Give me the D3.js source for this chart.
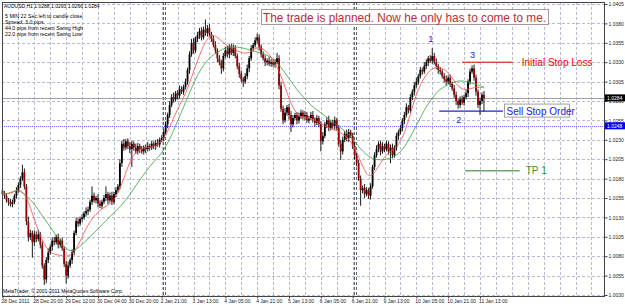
<!DOCTYPE html>
<html><head><meta charset="utf-8">
<script src="https://cdn.jsdelivr.net/npm/d3@7"></script>
<style>body{margin:0;background:#fff}svg{display:block}text{font-family:"Liberation Sans",Arial,sans-serif}</style>
</head><body><svg id="c" width="625" height="305"></svg>
<script>
const closes = [1.0160,1.0158,1.0152,1.0150,1.0147,1.0150,1.0158,1.0165,1.0172,1.0180,
1.0188,1.0170,1.0125,1.0105,1.0110,1.0098,1.0108,1.0102,1.0108,1.0095,
1.0068,1.0050,1.0075,1.0085,1.0092,1.0100,1.0098,1.0105,1.0095,1.0100,
1.0090,1.0070,1.0055,1.0068,1.0075,1.0085,1.0110,1.0125,1.0122,1.0128,
1.0130,1.0135,1.0138,1.0140,1.0150,1.0158,1.0152,1.0155,1.0148,1.0145,
1.0150,1.0155,1.0160,1.0152,1.0158,1.0150,1.0160,1.0165,1.0170,1.0200,
1.0225,1.0220,1.0228,1.0222,1.0218,1.0225,1.0220,1.0215,1.0222,1.0218,
1.0215,1.0220,1.0218,1.0222,1.0220,1.0225,1.0222,1.0226,1.0224,1.0230,
1.0232,1.0240,1.0250,1.0262,1.0275,1.0285,1.0282,1.0290,1.0287,1.0295,
1.0292,1.0298,1.0305,1.0320,1.0340,1.0355,1.0345,1.0360,1.0365,1.0370,
1.0362,1.0372,1.0368,1.0374,1.0366,1.0360,1.0352,1.0345,1.0335,1.0330,
1.0322,1.0338,1.0345,1.0340,1.0350,1.0342,1.0348,1.0338,1.0325,1.0315,
1.0308,1.0305,1.0312,1.0322,1.0335,1.0348,1.0352,1.0358,1.0362,1.0350,
1.0340,1.0335,1.0330,1.0332,1.0328,1.0330,1.0327,1.0330,1.0335,1.0300,
1.0270,1.0255,1.0265,1.0272,1.0262,1.0250,1.0258,1.0262,1.0255,1.0260,
1.0265,1.0260,1.0262,1.0255,1.0258,1.0262,1.0256,1.0252,1.0258,1.0250,
1.0228,1.0235,1.0250,1.0255,1.0245,1.0252,1.0248,1.0255,1.0245,1.0225,
1.0215,1.0230,1.0238,1.0232,1.0240,1.0235,1.0222,1.0210,1.0200,1.0180,
1.0165,1.0168,1.0160,1.0165,1.0158,1.0170,1.0195,1.0210,1.0218,1.0225,
1.0215,1.0222,1.0218,1.0225,1.0215,1.0220,1.0210,1.0220,1.0235,1.0240,
1.0245,1.0255,1.0262,1.0272,1.0268,1.0285,1.0292,1.0300,1.0305,1.0312,
1.0320,1.0318,1.0325,1.0330,1.0335,1.0332,1.0338,1.0330,1.0325,1.0320,
1.0318,1.0312,1.0308,1.0305,1.0310,1.0302,1.0296,1.0288,1.0280,1.0275,
1.0282,1.0278,1.0285,1.0290,1.0305,1.0318,1.0322,1.0310,1.0292,1.0275,
1.0280,1.0288,1.0284];
const opens = [1.0165,1.0160,1.0158,1.0152,1.0150,1.0147,1.0150,1.0158,1.0165,1.0172,
1.0180,1.0188,1.0170,1.0125,1.0105,1.0110,1.0098,1.0108,1.0102,1.0108,
1.0095,1.0068,1.0050,1.0075,1.0085,1.0092,1.0100,1.0098,1.0105,1.0095,
1.0100,1.0090,1.0070,1.0055,1.0068,1.0075,1.0085,1.0110,1.0125,1.0122,
1.0128,1.0130,1.0135,1.0138,1.0140,1.0150,1.0158,1.0152,1.0155,1.0148,
1.0145,1.0150,1.0155,1.0160,1.0152,1.0158,1.0150,1.0160,1.0165,1.0170,
1.0200,1.0225,1.0220,1.0228,1.0222,1.0218,1.0225,1.0220,1.0215,1.0222,
1.0218,1.0215,1.0220,1.0218,1.0222,1.0220,1.0225,1.0222,1.0226,1.0224,
1.0230,1.0232,1.0240,1.0250,1.0262,1.0275,1.0285,1.0282,1.0290,1.0287,
1.0295,1.0292,1.0298,1.0305,1.0320,1.0340,1.0355,1.0345,1.0360,1.0365,
1.0370,1.0362,1.0372,1.0368,1.0374,1.0366,1.0360,1.0352,1.0345,1.0335,
1.0330,1.0322,1.0338,1.0345,1.0340,1.0350,1.0342,1.0348,1.0338,1.0325,
1.0315,1.0308,1.0305,1.0312,1.0322,1.0335,1.0348,1.0352,1.0358,1.0362,
1.0350,1.0340,1.0335,1.0330,1.0332,1.0328,1.0330,1.0327,1.0330,1.0335,
1.0300,1.0270,1.0255,1.0265,1.0272,1.0262,1.0250,1.0258,1.0262,1.0255,
1.0260,1.0265,1.0260,1.0262,1.0255,1.0258,1.0262,1.0256,1.0252,1.0258,
1.0250,1.0228,1.0235,1.0250,1.0255,1.0245,1.0252,1.0248,1.0255,1.0245,
1.0225,1.0215,1.0230,1.0238,1.0232,1.0240,1.0235,1.0222,1.0210,1.0200,
1.0180,1.0165,1.0168,1.0160,1.0165,1.0158,1.0170,1.0195,1.0210,1.0218,
1.0225,1.0215,1.0222,1.0218,1.0225,1.0215,1.0220,1.0210,1.0220,1.0235,
1.0240,1.0245,1.0255,1.0262,1.0272,1.0268,1.0285,1.0292,1.0300,1.0305,
1.0312,1.0320,1.0318,1.0325,1.0330,1.0335,1.0332,1.0338,1.0330,1.0325,
1.0320,1.0318,1.0312,1.0308,1.0305,1.0310,1.0302,1.0296,1.0288,1.0280,
1.0275,1.0282,1.0278,1.0285,1.0290,1.0305,1.0318,1.0322,1.0310,1.0292,
1.0275,1.0280,1.0288];
// upper / lower shadow lengths in pips
const wickUp = [3,4,2,3,4,3,2,4,3,3, 10,5,3,6,4,3,5,4,6,3, 4,3,4,5,3,4,5,3,4,3, 4,3,4,5,3,4,3,5,4,3,
4,3,5,4,3,12,4,3,5,4, 3,4,10,3,4,5,3,4,3,5, 4,6,3,4,5,4,3,5,4,3, 4,3,4,5,3,4,3,4,5,3,
4,3,4,3,5,4,6,3,4,5, 4,3,4,3,4,5,6,3,4,4, 5,4,13,4,5,3,4,5,3,4, 3,4,5,6,3,4,5,4,3,4,
4,3,4,5,3,4,3,4,5,4, 3,4,4,3,5,4,3,4,7,4, 5,4,6,3,4,5,4,3,4,5, 4,3,5,4,3,4,5,3,4,3,
4,5,3,4,6,3,4,5,3,4, 5,4,3,5,4,3,4,5,3,4, 4,3,5,4,3,4,3,4,5,3, 4,5,3,4,3,4,5,3,4,3,
4,3,4,5,3,4,3,4,5,3, 4,3,5,4,3,4,10,4,5,3, 4,3,4,5,3,4,3,5,4,3, 4,5,3,4,3,4,4,5,4,3, 4,3,5];
const wickDn = [3,4,3,5,3,4,3,4,3,4, 3,4,5,6,4,20,5,4,3,5, 4,7,5,4,3,5,4,3,5,4, 3,4,10,4,3,5,4,3,4,3,
4,3,4,5,3,4,3,4,5,3, 4,3,4,5,3,4,3,4,3,4, 5,4,3,4,5,23,4,3,4,5, 3,4,5,3,4,3,4,5,3,4,
3,4,3,5,4,3,4,3,5,4, 3,4,3,4,5,3,4,3,4,5, 4,3,4,5,3,4,3,4,5,4, 7,4,3,4,5,3,4,3,4,5,
4,7,3,4,5,3,4,3,4,5, 4,3,5,4,3,4,3,4,3,5, 4,5,3,4,6,10,4,3,5,4, 3,4,5,3,4,3,4,5,3,4,
13,4,3,5,4,3,4,5,3,4, 11,4,3,4,5,3,4,5,4,3, 20,4,5,3,4,5,3,4,3,4, 5,3,4,3,4,15,4,3,4,5,
3,4,5,3,4,3,4,5,3,4, 3,4,3,4,5,3,4,3,4,5, 4,3,4,5,3,4,3,4,5,5, 4,3,4,3,5,4,3,4,5,4, 13,4,18];

const maIdx = [0,4,8,12,16,20,24,28,32,36,40,44,48,52,56,60,64,68,72,76,80,84,88,92,96,100,104,108,112,116,120,124,128,132,136,140,144,148,152,156,160,164,168,172,176,180,184,188,192,196,200,204,208,212,216,220,224,228,232,236,240,242];
const maFast = [1.0162,1.0159,1.0168,1.0159,1.0127,1.0099,1.0083,1.0082,1.0079,1.0083,1.0105,1.0126,1.0137,1.0145,1.0150,1.0172,1.0204,1.0217,1.0220,1.0221,1.0227,1.0245,1.0271,1.0288,1.0318,1.0346,1.0367,1.0363,1.0352,1.0347,1.0342,1.0341,1.0351,1.0346,1.0334,1.0314,1.0282,1.0261,1.0258,1.0257,1.0251,1.0245,1.0242,1.0236,1.0226,1.0202,1.0178,1.0191,1.0209,1.0217,1.0225,1.0253,1.0291,1.0311,1.0323,1.0324,1.0318,1.0301,1.0293,1.0297,1.0298,1.0297];
const maSlow = [1.0159,1.0162,1.0166,1.0158,1.0148,1.0132,1.0118,1.0102,1.0088,1.0086,1.0095,1.0105,1.0115,1.0126,1.0136,1.0146,1.0159,1.0175,1.0189,1.0202,1.0212,1.0230,1.0254,1.0278,1.0303,1.0323,1.0336,1.0343,1.0349,1.0350,1.0349,1.0346,1.0343,1.0341,1.0334,1.0324,1.0309,1.0294,1.0283,1.0272,1.0265,1.0257,1.0249,1.0242,1.0231,1.0218,1.0208,1.0204,1.0204,1.0207,1.0213,1.0229,1.0248,1.0269,1.0284,1.0296,1.0301,1.0306,1.0306,1.0303,1.0300,1.0298];

const priceTicks = [1.0405,1.0380,1.0355,1.0330,1.0305,1.0280,1.0255,1.0230,1.0205,1.0180,1.0155,1.0130,1.0105,1.0080,1.0055,1.0030];
const timeIdx = [0,16,32,48,64,80,96,112,128,144,160,176,192,208,224,240];
const timeLabels = ["28 Dec 2011","28 Dec 20:00","29 Dec 12:00","30 Dec 04:00","30 Dec 20:00","2 Jan 21:00","3 Jan 13:00","4 Jan 05:00","4 Jan 21:00","5 Jan 13:00","6 Jan 05:00","6 Jan 21:00","9 Jan 13:00","10 Jan 05:00","10 Jan 21:00","11 Jan 13:00"];
const bidPrice = 1.0284, askPrice = 1.0248;
const stopLoss = 1.0330, sellStop = 1.0267, tp1 = 1.0190;
const swingHigh = 1.0352, swingLow = 1.0255, swing3 = 1.0336;
const headerLines = ["5 MIN 22 Sec left to candle close","Spread: 3.0 pips","44.0 pips from recent Swing High","22.0 pips from recent Swing Low"];

const svg = d3.select('#c');
const L=2, T=2, R=604, B=296;
const x = d3.scaleLinear().domain([0,240]).range([2.5,480]);
const y = d3.scaleLinear().domain([1.0030,1.0405]).range([295,4]);

svg.append('rect').attr('width',625).attr('height',305).attr('fill','#fff');

// grid
const gridCol = '#b8bccc';
const g = svg.append('g');
g.selectAll('.hg').data(priceTicks).join('line')
  .attr('x1',L).attr('x2',R).attr('y1',d=>Math.round(y(d))+0.5).attr('y2',d=>Math.round(y(d))+0.5)
  .attr('stroke',gridCol).attr('stroke-dasharray','3,2');
g.selectAll('.vg').data(d3.range(8,304,8)).join('line')
  .attr('x1',d=>Math.round(x(d))+0.5).attr('x2',d=>Math.round(x(d))+0.5).attr('y1',T).attr('y2',B)
  .attr('stroke',gridCol).attr('stroke-dasharray','3,2');
// period separators (double dashed)
[80,176].forEach(d=>{
  [1.5,3.5].forEach(o=>{
    g.append('line').attr('x1',Math.round(x(d))+o).attr('x2',Math.round(x(d))+o).attr('y1',T).attr('y2',B)
      .attr('stroke','#606470').attr('stroke-dasharray','3,2');
  });
});

// bid / ask lines
svg.append('line').attr('x1',L).attr('x2',R).attr('y1',Math.round(y(bidPrice))+0.5).attr('y2',Math.round(y(bidPrice))+0.5)
  .attr('stroke','#a0a0a8');
svg.append('line').attr('x1',L).attr('x2',R).attr('y1',Math.round(y(askPrice))+0.5).attr('y2',Math.round(y(askPrice))+0.5)
  .attr('stroke','#7070ff').attr('stroke-dasharray','1,1');

// candles
const candles = closes.map((c,i)=>({i,o:opens[i],c,h:Math.max(opens[i],c)+wickUp[i]/10000,l:Math.min(opens[i],c)-wickDn[i]/10000}));
const cg = svg.append('g');
cg.selectAll('line').data(candles).join('line')
  .attr('x1',d=>x(d.i)).attr('x2',d=>x(d.i)).attr('y1',d=>y(d.h)).attr('y2',d=>y(d.l))
  .attr('stroke','#000').attr('stroke-width',0.9);
cg.selectAll('rect').data(candles).join('rect')
  .attr('x',d=>x(d.i)-0.9).attr('width',1.8)
  .attr('y',d=>y(Math.max(d.o,d.c))).attr('height',d=>Math.max(0.8,Math.abs(y(d.o)-y(d.c))))
  .attr('fill',d=>d.c>=d.o?'#000':'#9a0000');

// moving averages
const ma = (arr)=>arr.map((v,k)=>({i:maIdx[k],v}));
const line = d3.line().x(d=>x(d.i)).y(d=>y(d.v)).curve(d3.curveBasis);
svg.append('path').attr('d',line(ma(maSlow))).attr('fill','none').attr('stroke','#3aa03a').attr('stroke-width',0.8);
svg.append('path').attr('d',line(ma(maFast))).attr('fill','none').attr('stroke','#ff4a4a').attr('stroke-width',0.8);

// frame
svg.append('rect').attr('x',L+0.5).attr('y',T+0.5).attr('width',R-L).attr('height',B-T)
  .attr('fill','none').attr('stroke','#444');

// axes
const ay = svg.append('g').attr('transform',`translate(${R+0.5},0)`)
  .call(d3.axisRight(y).tickValues(priceTicks).tickFormat(d3.format('.4f')).tickSize(3).tickPadding(1));
ay.select('.domain').remove();
ay.selectAll('text').attr('font-size','5px').attr('fill','#222');
ay.selectAll('line').attr('stroke','#444');
const ax = svg.append('g').attr('transform',`translate(0,${B+0.5})`)
  .call(d3.axisBottom(x).tickValues(timeIdx).tickFormat((d,k)=>timeLabels[k]).tickSize(2).tickPadding(1));
ax.select('.domain').remove();
ax.selectAll('text').attr('font-size','5px').attr('fill','#222').attr('text-anchor','start').attr('dx','-1.5');
ax.selectAll('line').attr('stroke','#444');

// price boxes
function pbox(p,bg){
  const yy=y(p);
  svg.append('rect').attr('x',R+1).attr('y',yy-3.5).attr('width',20).attr('height',7).attr('fill',bg);
  svg.append('text').attr('x',R+3).attr('y',yy+2).attr('font-size','5px').attr('fill','#fff').text(d3.format('.4f')(p));
}
pbox(bidPrice,'#000');
pbox(askPrice,'#0000ff');

// header text
svg.append('text').attr('x',4).attr('y',8).attr('font-size','5px').attr('fill','#000')
  .text(`AUDUSD,H1  ${d3.format('.4f')(opens[242])} ${d3.format('.4f')(candles[242].h)} ${d3.format('.4f')(candles[242].l)} ${d3.format('.4f')(closes[242])}`);
svg.selectAll('.hl').data(headerLines).join('text').attr('x',5).attr('y',(d,k)=>18+k*6)
  .attr('font-size','5.3px').attr('fill','#000').text(d=>d);
svg.append('text').attr('x',3).attr('y',293).attr('font-size','5px').attr('fill','#000')
  .text('MetaTrader, © 2001-2011 MetaQuotes Software Corp.');

// title annotation
svg.append('rect').attr('x',261.5).attr('y',9.5).attr('width',287).attr('height',15).attr('fill','#fff').attr('stroke','#a89898');
svg.append('text').attr('x',263).attr('y',22).attr('font-size','13px').attr('fill','#b83030')
  .attr('textLength',283).attr('lengthAdjust','spacingAndGlyphs')
  .text('The trade is planned. Now he only has to come to me.');

// swing labels
svg.append('text').attr('x',x(214)).attr('y',y(swingHigh)-3).attr('font-size','9px').attr('fill','#2020e0').text('1');
svg.append('text').attr('x',x(228)).attr('y',y(swingLow)+3).attr('font-size','9px').attr('fill','#2020e0').text('2');
svg.append('text').attr('x',x(235)).attr('y',y(swing3)).attr('font-size','9px').attr('fill','#2020e0').text('3');

// stop loss
svg.append('line').attr('x1',x(231)).attr('x2',x(256.5)).attr('y1',y(stopLoss)).attr('y2',y(stopLoss)).attr('stroke','#e00000').attr('stroke-width',1);
svg.append('text').attr('x',x(261)).attr('y',y(stopLoss)+3.5).attr('font-size','10px').attr('fill','#ff0000').text('Initial Stop Loss');
// sell stop
svg.append('line').attr('x1',x(219.5)).attr('x2',x(251.5)).attr('y1',y(sellStop)).attr('y2',y(sellStop)).attr('stroke','#2020d0').attr('stroke-width',1.3);
svg.append('rect').attr('x',x(252.3)).attr('y',y(sellStop)-7).attr('width',65).attr('height',13).attr('fill','#fff').attr('stroke','#a0a0a0');
svg.append('text').attr('x',x(252.3)+2).attr('y',y(sellStop)+3.5).attr('font-size','10px').attr('fill','#2020e0').text('Sell Stop Order');
// TP1
svg.append('line').attr('x1',x(232.5)).attr('x2',x(260)).attr('y1',y(tp1)).attr('y2',y(tp1)).attr('stroke','#208020').attr('stroke-width',1);
svg.append('text').attr('x',x(263)).attr('y',y(tp1)+3.5).attr('font-size','10px').attr('fill','#20a020').text('TP 1');
</script></body></html>
